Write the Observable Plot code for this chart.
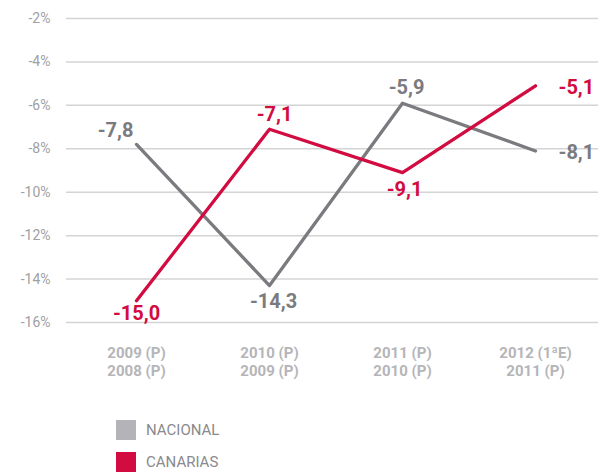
<!DOCTYPE html>
<html>
<head>
<meta charset="utf-8">
<script src="https://cdn.jsdelivr.net/npm/d3@7"></script>
<script src="https://cdn.jsdelivr.net/npm/@observablehq/plot@0.6"></script>
<style>
  body { margin: 0; background: #fff; font-family: Roboto, "Noto Sans", sans-serif; }
  #chart svg { display: block; }
  .legend { position: relative; height: 73px; }
  .item { position: absolute; left: 116px; display: flex; align-items: center; font-size: 15px; color: #8a8a8c; }
  .sw { width: 20px; height: 20px; margin-right: 10px; }
</style>
</head>
<body>
<div id="chart"></div>
<div class="legend">
  <div class="item" style="top:20px"><div class="sw" style="background:#b4b4b8"></div>NACIONAL</div>
  <div class="item" style="top:52px"><div class="sw" style="background:#d20c40"></div>CANARIAS</div>
</div>
<script>
const periods = ["2009 (P)\n2008 (P)", "2010 (P)\n2009 (P)", "2011 (P)\n2010 (P)", "2012 (1ªE)\n2011 (P)"];
const nacional = [-7.8, -14.3, -5.9, -8.1];
const canarias = [-15.0, -7.1, -9.1, -5.1];
const yTicks = [-2, -4, -6, -8, -10, -12, -14, -16];

const colors = { NACIONAL: "#7b7b7f", CANARIAS: "#d20c40" };
// label placement (style only)
const nacOffsets = [[-21, -14, "middle"], [4, 16, "middle"], [4, -16, "middle"], [23, 2, "start"]];
const canOffsets = [[0, 13, "middle"], [5, -15, "middle"], [2, 17, "middle"], [23, 2, "start"]];

const fmt = v => v.toFixed(1).replace(".", ",");
const rows = [
  ...periods.map((p, i) => ({ period: p, value: nacional[i], serie: "NACIONAL", i, off: nacOffsets[i] })),
  ...periods.map((p, i) => ({ period: p, value: canarias[i], serie: "CANARIAS", i, off: canOffsets[i] }))
];

const labelMarks = rows.map(r => Plot.text([r], {
  x: "period", y: "value", text: d => fmt(d.value),
  fill: colors[r.serie], fontSize: 20, fontWeight: "bold",
  dx: r.off[0], dy: r.off[1], textAnchor: r.off[2]
}));

const chart = Plot.plot({
  width: 598, height: 400,
  marginLeft: 66, marginRight: 0, marginTop: 18, marginBottom: 78,
  style: { fontFamily: "Roboto, 'Noto Sans', sans-serif", background: "#fff" },
  x: { type: "point", domain: periods, range: [135, 535], padding: 0, label: null },
  y: { domain: [-16, -2], ticks: yTicks, label: null },
  marks: [
    Plot.ruleY(yTicks, { stroke: "#d4d4d4", strokeWidth: 1.5 }),
    Plot.axisY({ ticks: yTicks, tickSize: 0, tickPadding: 16, tickFormat: d => `${d}%`, fontSize: 14, fill: "#a0a0a2", label: null }),
    Plot.axisX({ tickSize: 0, tickPadding: 23, lineAnchor: "top", fontSize: 15, fontWeight: "bold", fill: "#b5b5b8", lineHeight: 1.2, label: null }),
    Plot.line(rows.filter(d => d.serie === "NACIONAL"), { x: "period", y: "value", stroke: colors.NACIONAL, strokeWidth: 3.3 }),
    Plot.line(rows.filter(d => d.serie === "CANARIAS"), { x: "period", y: "value", stroke: colors.CANARIAS, strokeWidth: 3.3 }),
    ...labelMarks
  ]
});
document.getElementById("chart").append(chart);
</script>
</body>
</html>
